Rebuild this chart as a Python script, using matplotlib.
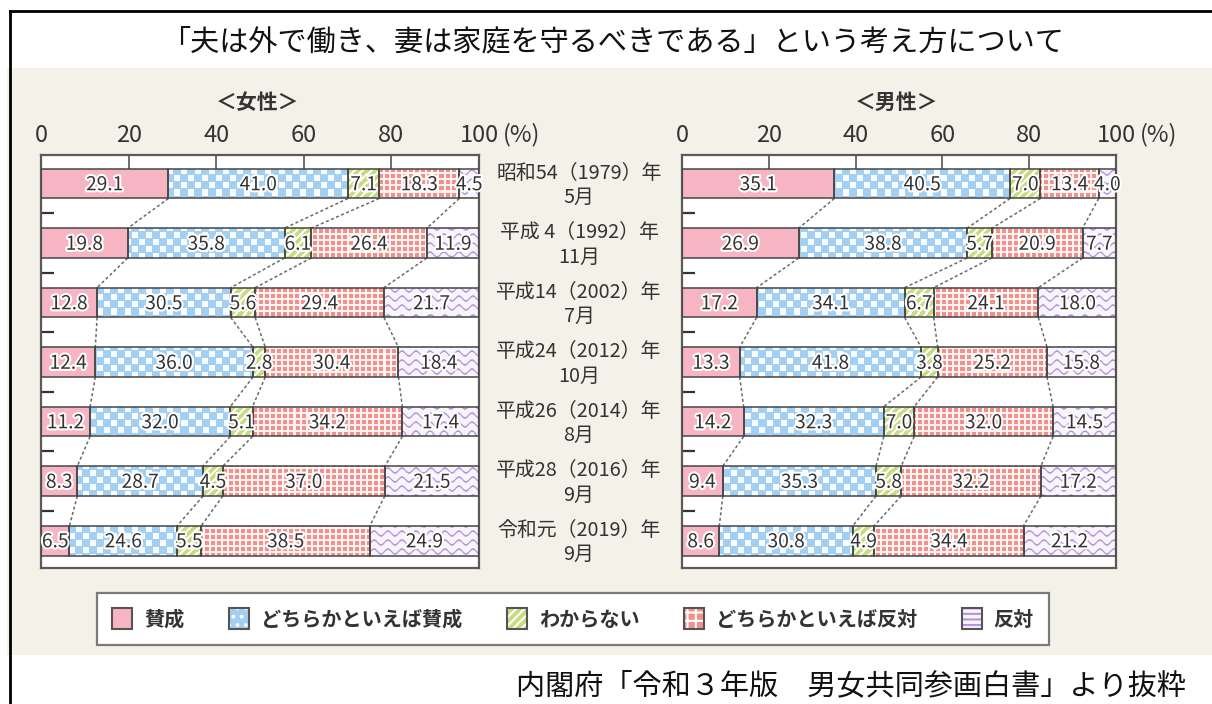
import numpy as np
import matplotlib
matplotlib.use("Agg")
import matplotlib.pyplot as plt
import matplotlib.patheffects as pe
from matplotlib.patches import Rectangle, Patch
from matplotlib.lines import Line2D
from matplotlib.legend_handler import HandlerTuple
import matplotlib.transforms as mtrans

plt.rcParams['font.family'] = ['Noto Sans CJK JP', 'DejaVu Sans']

# ---------------- data ----------------
title = "「夫は外で働き、妻は家庭を守るべきである」という考え方について"
source = "内閣府「令和３年版　男女共同参画白書」より抜粋"
categories = ["賛成", "どちらかといえば賛成", "わからない", "どちらかといえば反対", "反対"]
survey_labels = [
    "昭和54（1979）年\n5月",
    "平成 4（1992）年\n11月",
    "平成14（2002）年\n7月",
    "平成24（2012）年\n10月",
    "平成26（2014）年\n8月",
    "平成28（2016）年\n9月",
    "令和元（2019）年\n9月",
]
women = [
    [29.1, 41.0, 7.1, 18.3, 4.5],
    [19.8, 35.8, 6.1, 26.4, 11.9],
    [12.8, 30.5, 5.6, 29.4, 21.7],
    [12.4, 36.0, 2.8, 30.4, 18.4],
    [11.2, 32.0, 5.1, 34.2, 17.4],
    [8.3, 28.7, 4.5, 37.0, 21.5],
    [6.5, 24.6, 5.5, 38.5, 24.9],
]
men = [
    [35.1, 40.5, 7.0, 13.4, 4.0],
    [26.9, 38.8, 5.7, 20.9, 7.7],
    [17.2, 34.1, 6.7, 24.1, 18.0],
    [13.3, 41.8, 3.8, 25.2, 15.8],
    [14.2, 32.3, 7.0, 32.0, 14.5],
    [9.4, 35.3, 5.8, 32.2, 17.2],
    [8.6, 30.8, 4.9, 34.4, 21.2],
]
panel_titles = ["＜女性＞", "＜男性＞"]
xticks = [0, 20, 40, 60, 80, 100]

# ---------------- style ----------------
W, H = 1212, 704
BEIGE = "#f4f1e9"
PINK = "#f7b5c3"
BLUE = "#a3d0f2"
GREEN = "#c6dc7e"
SALMON = "#f2918c"
LAV_BG = "#f8f4fb"
PURPLE = "#b596d9"
EDGE = "#454545"
TXT = "#333333"

fig = plt.figure(figsize=(W / 100, H / 100), dpi=100)
fig.patch.set_facecolor("white")

# background panels
fig.patches.append(Rectangle((7 / W, 1 - 655 / H), 1, (655 - 68) / H,
                             transform=fig.transFigure, facecolor=BEIGE,
                             edgecolor="none", zorder=-10))
fig.lines.append(Line2D([10 / W, 10 / W], [0, 1 - 11 / H], transform=fig.transFigure,
                        color="black", lw=2, zorder=5))
fig.lines.append(Line2D([10 / W, 1], [1 - 11 / H, 1 - 11 / H], transform=fig.transFigure,
                        color="black", lw=2, zorder=5))
fig.text(612 / W, 1 - 42 / H, title, ha="center", va="center", fontsize=21, color="#111")
fig.text(1186 / W, 1 - 686 / H, source, ha="right", va="center", fontsize=21, color="#111")


def hex2rgb(h):
    h = h.lstrip("#")
    return np.array([int(h[i:i + 2], 16) / 255 for i in (0, 2, 4)])


def texture(kind, ny, nx):
    i, j = np.mgrid[0:ny, 0:nx]
    img = np.ones((ny, nx, 3))
    if kind == 1:  # checker
        base = hex2rgb(BLUE)
        white = (((i // 7) + (j // 7)) % 2 == 0) & (i % 7 != 6) & (j % 7 != 6)
        img[:] = base
        img[white] = hex2rgb("#f8fcff")
    elif kind == 2:  # diagonal stripes
        base = hex2rgb(GREEN)
        img[:] = base
        img[((i + j) % 8) < 3] = hex2rgb("#fbfdf4")
    elif kind == 3:  # grid
        base = hex2rgb(SALMON)
        img[:] = base
        img[(i % 6 < 2) | (j % 6 < 2)] = hex2rgb("#fff4f2")
    elif kind == 4:  # waves
        bg = hex2rgb(LAV_BG)
        fg = hex2rgb(PURPLE)
        y0 = i - 2.4 * np.sin(2 * np.pi * j / 14.0)
        d = np.abs(((y0 + 4.5) % 9) - 4.5)
        a = np.clip(1.4 - d, 0, 1)[..., None]
        img = bg * (1 - a) + fg * a
    return img


def draw_panel(ax, data, ax_px):
    nbar = len(data)
    ylim = (nbar - 0.54, -0.48)
    ax.set_xlim(0, 100)
    ax.set_ylim(*ylim)
    ax.set_facecolor("white")
    for s in ax.spines.values():
        s.set_color("#5a5a5a")
        s.set_linewidth(1.6)
    arr = np.array(data)
    cum = np.cumsum(arr, axis=1)
    lefts = cum - arr
    ys = np.arange(nbar)
    cols = [PINK, BLUE, GREEN, SALMON, LAV_BG]
    texs = {k: texture(k, ax_px[1], ax_px[0]) for k in (1, 2, 3, 4)}
    for k in range(arr.shape[1]):
        bars = ax.barh(ys, arr[:, k], left=lefts[:, k], height=0.5,
                       color=cols[k], edgecolor="none", zorder=2)
        if k > 0:
            for b in bars:
                im = ax.imshow(texs[k], extent=(0, 100, ylim[0], ylim[1]),
                               origin="upper", aspect="auto",
                               interpolation="nearest", zorder=2.5)
                im.set_clip_path(b)
        ax.barh(ys, arr[:, k], left=lefts[:, k], height=0.5, fill=False,
                edgecolor=EDGE, lw=1.1, zorder=3)
        for y, l, v in zip(ys, lefts[:, k], arr[:, k]):
            ax.text(l + v / 2, y + 0.02, f"{v:.1f}", ha="center", va="center",
                    fontsize=13.8, color=TXT, zorder=5,
                    path_effects=[pe.withStroke(linewidth=3, foreground="white")])
    # connectors
    for i in range(nbar - 1):
        for k in range(4):
            ax.plot([cum[i, k], cum[i + 1, k]], [i + 0.25, i + 0.75],
                    color="#6a6a6a", lw=1.1, ls=(0, (2, 1.6)), zorder=1.5)
    ax.set_xlim(0, 100)
    ax.set_ylim(*ylim)
    ax.xaxis.tick_top()
    ax.set_xticks(xticks)
    ax.set_xticklabels([str(t) for t in xticks])
    ax.tick_params(axis="x", direction="in", length=12, width=1.1, color=EDGE,
                   labelsize=17, pad=6, labelcolor=TXT)
    ax.set_yticks(np.arange(nbar - 1) + 0.5)
    ax.set_yticklabels([])
    ax.tick_params(axis="y", direction="in", length=9, width=1.6, color="#333",
                   left=True, right=False)
    ax.text(105.5, -0.48, "(%)", ha="left", va="bottom", fontsize=17, color=TXT,
            transform=ax.transData + mtrans.ScaledTranslation(0, 6.5 / 72, fig.dpi_scale_trans))


positions = [(41, 438), (682, 434)]
axes = []
for (x0, w), d, t in zip(positions, [women, men], panel_titles):
    ax = fig.add_axes([x0 / W, 1 - 568 / H, w / W, 413 / H])
    draw_panel(ax, d, (w, 413))
    ax.text(0.495, 1.127, t, transform=ax.transAxes, ha="center", va="center",
            fontsize=15, fontweight="bold", color=TXT)
    axes.append(ax)

# center labels
blend = mtrans.blended_transform_factory(fig.transFigure, axes[0].transData)
for i, lab in enumerate(survey_labels):
    fig.text(579 / W, i + 0.03, lab, transform=blend, ha="center", va="center",
             fontsize=14.3, color=TXT, linespacing=1.2)

# legend
texture_hatches = [None, "..", "////", "++", "~"]
handles = []
cols = [PINK, BLUE, GREEN, SALMON, LAV_BG]
plt.rcParams["hatch.linewidth"] = 1.5
for k, c in enumerate(cols):
    base = Patch(facecolor=c, edgecolor="none")
    outline = Patch(facecolor="none", edgecolor="#555555", lw=1.5)
    if k == 0:
        handles.append((base, outline))
    elif k == 4:
        hat = Patch(facecolor="none", edgecolor=PURPLE, lw=0, hatch="---")
        handles.append((base, hat, outline))
    else:
        hat = Patch(facecolor="none", edgecolor="white", lw=0, hatch=texture_hatches[k])
        handles.append((base, hat, outline))

leg = fig.legend(handles, categories, loc="center", bbox_to_anchor=(573 / W, 1 - 619 / H),
                 ncol=5, handler_map={tuple: HandlerTuple(ndivide=1, pad=0)},
                 prop={"size": 14.5, "weight": "bold"}, frameon=True, fancybox=False,
                 edgecolor="#7a7a7a", facecolor="white", framealpha=1,
                 handlelength=1.0, handleheight=1.2, handletextpad=0.6,
                 columnspacing=2.2, borderpad=0.75, labelcolor=TXT)
leg.get_frame().set_linewidth(1.6)

fig.savefig("out.png", dpi=100, facecolor="white")
